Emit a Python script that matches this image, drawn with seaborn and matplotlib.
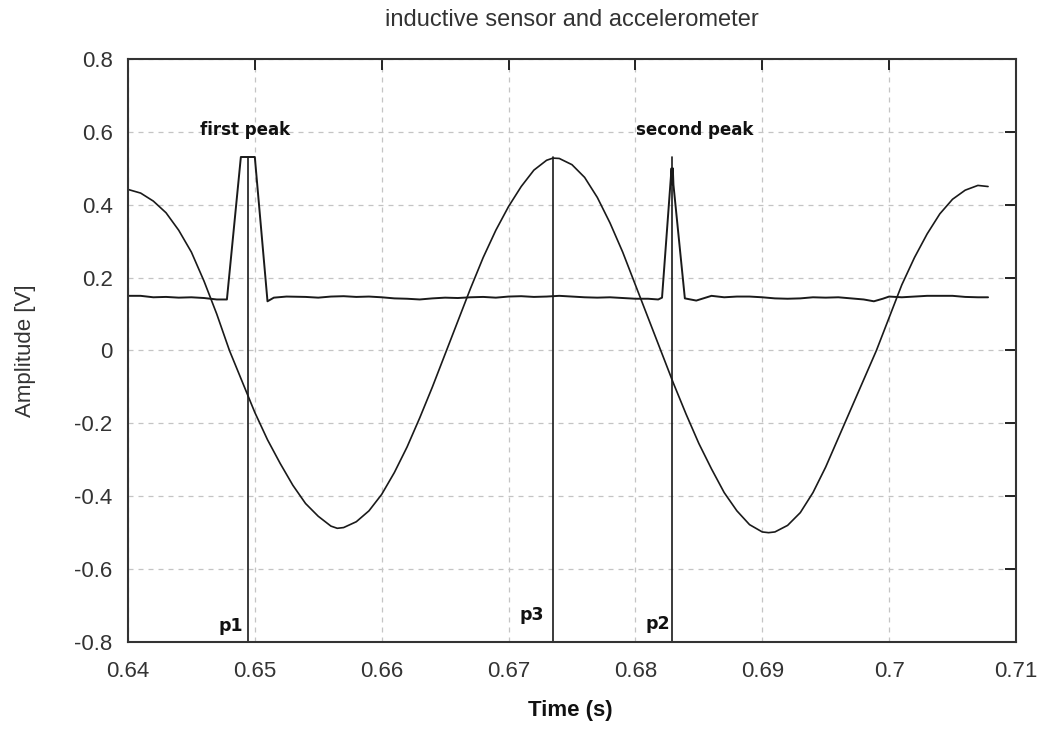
import matplotlib
matplotlib.use("Agg")
import matplotlib.pyplot as plt
import numpy as np
import pandas as pd
import seaborn as sns

# accelerometer trace (the big sine-like wave)
acc_t = [0.6400, 0.6410, 0.6420, 0.6430, 0.6440, 0.6450, 0.6460, 0.6470, 0.6480, 0.6490,
         0.6500, 0.6510, 0.6520, 0.6530, 0.6540, 0.6550, 0.6560, 0.6565, 0.6570, 0.6580,
         0.6590, 0.6600, 0.6610, 0.6620, 0.6630, 0.6640, 0.6650, 0.6660, 0.6670, 0.6680,
         0.6690, 0.6700, 0.6710, 0.6720, 0.6730, 0.6735, 0.6740, 0.6750, 0.6760, 0.6770,
         0.6780, 0.6790, 0.6800, 0.6810, 0.6820, 0.6830, 0.6840, 0.6850, 0.6860, 0.6870,
         0.6880, 0.6890, 0.6900, 0.6905, 0.6910, 0.6920, 0.6930, 0.6940, 0.6950, 0.6960,
         0.6970, 0.6980, 0.6990, 0.7000, 0.7010, 0.7020, 0.7030, 0.7040, 0.7050, 0.7060,
         0.7070, 0.7078]
acc_v = [0.442, 0.432, 0.410, 0.378, 0.330, 0.270, 0.190, 0.100, 0.000, -0.085,
         -0.170, -0.245, -0.310, -0.370, -0.420, -0.455, -0.482, -0.488, -0.486, -0.470,
         -0.440, -0.395, -0.335, -0.265, -0.185, -0.100, -0.010, 0.080, 0.170, 0.255,
         0.330, 0.395, 0.450, 0.495, 0.522, 0.528, 0.527, 0.510, 0.475, 0.420,
         0.350, 0.270, 0.180, 0.090, 0.000, -0.090, -0.175, -0.255, -0.325, -0.390,
         -0.440, -0.478, -0.498, -0.500, -0.498, -0.480, -0.445, -0.390, -0.320, -0.240,
         -0.160, -0.080, 0.000, 0.090, 0.180, 0.255, 0.320, 0.375, 0.415, 0.440,
         0.453, 0.450]

# inductive sensor trace (flat line with two peaks)
ind_t = [0.6400, 0.6410, 0.6420, 0.6430, 0.6440, 0.6450, 0.6460, 0.6470, 0.6478, 0.6489,
         0.6500, 0.6510, 0.6515, 0.6525, 0.6540, 0.6550, 0.6560, 0.6570, 0.6580, 0.6590,
         0.6600, 0.6610, 0.6620, 0.6630, 0.6640, 0.6650, 0.6660, 0.6670, 0.6680, 0.6690,
         0.6700, 0.6710, 0.6720, 0.6730, 0.6740, 0.6750, 0.6760, 0.6770, 0.6780, 0.6790,
         0.6800, 0.6810, 0.6818, 0.6821, 0.68285, 0.68290, 0.68295, 0.68300, 0.6839, 0.6848,
         0.6860, 0.6870, 0.6880, 0.6890, 0.6900, 0.6910, 0.6920, 0.6930, 0.6940, 0.6950,
         0.6960, 0.6970, 0.6980, 0.6988, 0.6995, 0.7000, 0.7010, 0.7020, 0.7030, 0.7040,
         0.7050, 0.7060, 0.7070, 0.7078]
ind_v = [0.150, 0.150, 0.146, 0.147, 0.145, 0.146, 0.144, 0.140, 0.140, 0.531,
         0.531, 0.135, 0.145, 0.148, 0.147, 0.145, 0.148, 0.149, 0.147, 0.148,
         0.146, 0.143, 0.142, 0.140, 0.143, 0.145, 0.144, 0.146, 0.147, 0.145,
         0.148, 0.149, 0.147, 0.148, 0.150, 0.148, 0.146, 0.145, 0.146, 0.144,
         0.142, 0.142, 0.140, 0.145, 0.500, 0.455, 0.500, 0.455, 0.143, 0.137,
         0.150, 0.146, 0.148, 0.148, 0.146, 0.143, 0.142, 0.143, 0.146, 0.145,
         0.146, 0.143, 0.140, 0.135, 0.142, 0.148, 0.146, 0.148, 0.150, 0.150,
         0.150, 0.147, 0.146, 0.146]

# vertical markers p1, p3, p2
mark_names = ["p1", "p3", "p2"]
mark_t = [0.6495, 0.6735, 0.6829]
mark_top = [0.531, 0.530, 0.530]
mark_label_t = [0.6481, 0.6718, 0.6818]
mark_label_v = [-0.755, -0.725, -0.750]

peak_names = ["first peak", "second peak"]
peak_label_t = [0.6492, 0.6847]
peak_label_v = [0.605, 0.605]

xticks = [0.64, 0.65, 0.66, 0.67, 0.68, 0.69, 0.70, 0.71]
xtick_labels = ["0.64", "0.65", "0.66", "0.67", "0.68", "0.69", "0.7", "0.71"]
yticks = [-0.8, -0.6, -0.4, -0.2, 0.0, 0.2, 0.4, 0.6, 0.8]
ytick_labels = ["-0.8", "-0.6", "-0.4", "-0.2", "0", "0.2", "0.4", "0.6", "0.8"]

sns.set_style("white")
plt.rcParams["font.family"] = ["Liberation Sans", "DejaVu Sans"]

fig = plt.figure(figsize=(10.42, 7.42), dpi=100)
ax = fig.add_axes([0.1228, 0.1348, 0.8522, 0.7857])

acc = pd.DataFrame({"t": acc_t, "v": acc_v})
ind = pd.DataFrame({"t": ind_t, "v": ind_v})
sns.lineplot(data=acc, x="t", y="v", ax=ax, color="#1a1a1a", lw=1.2, sort=False, estimator=None)
sns.lineplot(data=ind, x="t", y="v", ax=ax, color="#1a1a1a", lw=1.4, sort=False, estimator=None)

for t, top in zip(mark_t, mark_top):
    ax.plot([t, t], [-0.8, top], color="#1a1a1a", lw=1.2)
for name, t, v in zip(mark_names, mark_label_t, mark_label_v):
    ax.text(t, v, name, ha="center", va="center", fontsize=12.5, fontweight="bold",
            family=["DejaVu Sans"], color="#111111")
for name, t, v in zip(peak_names, peak_label_t, peak_label_v):
    ax.text(t, v, name, ha="center", va="center", fontsize=12, fontweight="bold",
            family=["DejaVu Sans"], color="#111111")

ax.set_xlim(0.64, 0.71)
ax.set_ylim(-0.8, 0.8)
ax.set_xticks(xticks)
ax.set_xticklabels(xtick_labels)
ax.set_yticks(yticks)
ax.set_yticklabels(ytick_labels)
ax.tick_params(direction="in", length=8, width=1.4, labelsize=16, labelcolor="#333333",
               top=True, right=True, color="#222222")
ax.tick_params(axis="x", pad=14)
ax.tick_params(axis="y", pad=11)
ax.grid(True, color="#c4c4c4", linestyle=(0, (4, 4)), lw=0.9)
for s in ax.spines.values():
    s.set_color("#333333")
    s.set_linewidth(1.5)

ax.set_xlabel("Time (s)", fontsize=16, fontweight="bold", color="#111111")
ax.xaxis.set_label_coords(0.498, -0.0995)
ax.set_ylabel("Amplitude [V]", fontsize=16, color="#333333")
ax.yaxis.set_label_coords(-0.103, 0.5)

fig.text(0.549, 0.973, "inductive sensor and accelerometer", ha="center", va="center",
         fontsize=17, color="#333333")

fig.savefig("out.png", dpi=100)
